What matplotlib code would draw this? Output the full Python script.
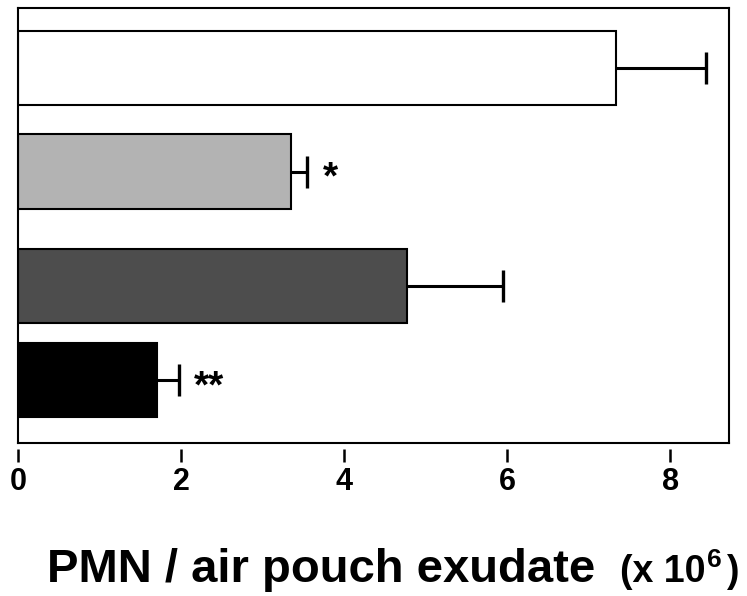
import matplotlib.pyplot as plt

plt.rcParams['font.family'] = ['Liberation Sans', 'DejaVu Sans']

# Data (PMN count x 10^6)
groups = ['group 1', 'group 2', 'group 3', 'group 4']
means = [7.34, 3.35, 4.77, 1.71]
errors = [1.10, 0.20, 1.18, 0.26]
marks = ['', '*', '', '**']
colors = ['white', '#b3b3b3', '#4d4d4d', 'black']
xticks = [0, 2, 4, 6, 8]

# vertical layout of the bars (top to bottom)
ypos = [3.75, 2.715, 1.57, 0.63]

W, H = 747, 596
fig = plt.figure(figsize=(W/100, H/100), dpi=100)
ax = fig.add_axes([18/W, 153/H, 711/W, 435/H])

ax.barh(ypos, means, height=0.74, color=colors, edgecolor='black', linewidth=1.5, zorder=2)
# one-sided error bars: line from the bar end, cap only at the outer end
ends = [m + e for m, e in zip(means, errors)]
ax.hlines(ypos, means, ends, color='black', lw=2.2, zorder=3)
ax.plot(ends, ypos, ls='none', marker='|', ms=23, mew=2.4, color='black', zorder=3)

for m, e, y, s in zip(means, errors, ypos, marks):
    if s:
        ax.annotate(s, xy=(m + e, y), xytext=(15, -17), textcoords='offset pixels',
                    ha='left', va='baseline', fontsize=28, fontweight='bold')

# ticks sit a little below the frame
ax.spines['bottom'].set_position(('outward', 4))
ax.spines['bottom'].set_visible(False)
ax.plot([0, 1], [0, 0], transform=ax.transAxes, color='black', lw=1.5, clip_on=False, zorder=4)
for side in ['left', 'right', 'top']:
    ax.spines[side].set_linewidth(1.5)

ax.set_xlim(0, 8.72)
ax.set_ylim(0, 4.35)
ax.set_yticks([])
ax.set_xticks(xticks)
ax.set_xticklabels([str(t) for t in xticks], fontsize=22, fontweight='bold')
ax.tick_params(axis='x', direction='out', length=9, width=1.8, pad=4)

# axis title, with the (x 10^6) unit put together piece by piece
yb = 1 - 582/H
fig.text(47/W, yb, 'PMN / air pouch exudate', fontsize=34, fontweight='bold',
         ha='left', va='baseline')
r = fig.canvas.get_renderer()
t1 = fig.text(620/W, yb, '(x 10', fontsize=27, fontweight='bold', ha='left', va='baseline')
b1 = t1.get_window_extent(r)
t2 = fig.text((b1.x1 + 1)/W, yb + 15/H, '6', fontsize=19, fontweight='bold',
              ha='left', va='baseline')
b2 = t2.get_window_extent(r)
fig.text((b2.x1 + 5)/W, yb, ')', fontsize=27, fontweight='bold', ha='left', va='baseline')

fig.savefig('out.png', dpi=100)
